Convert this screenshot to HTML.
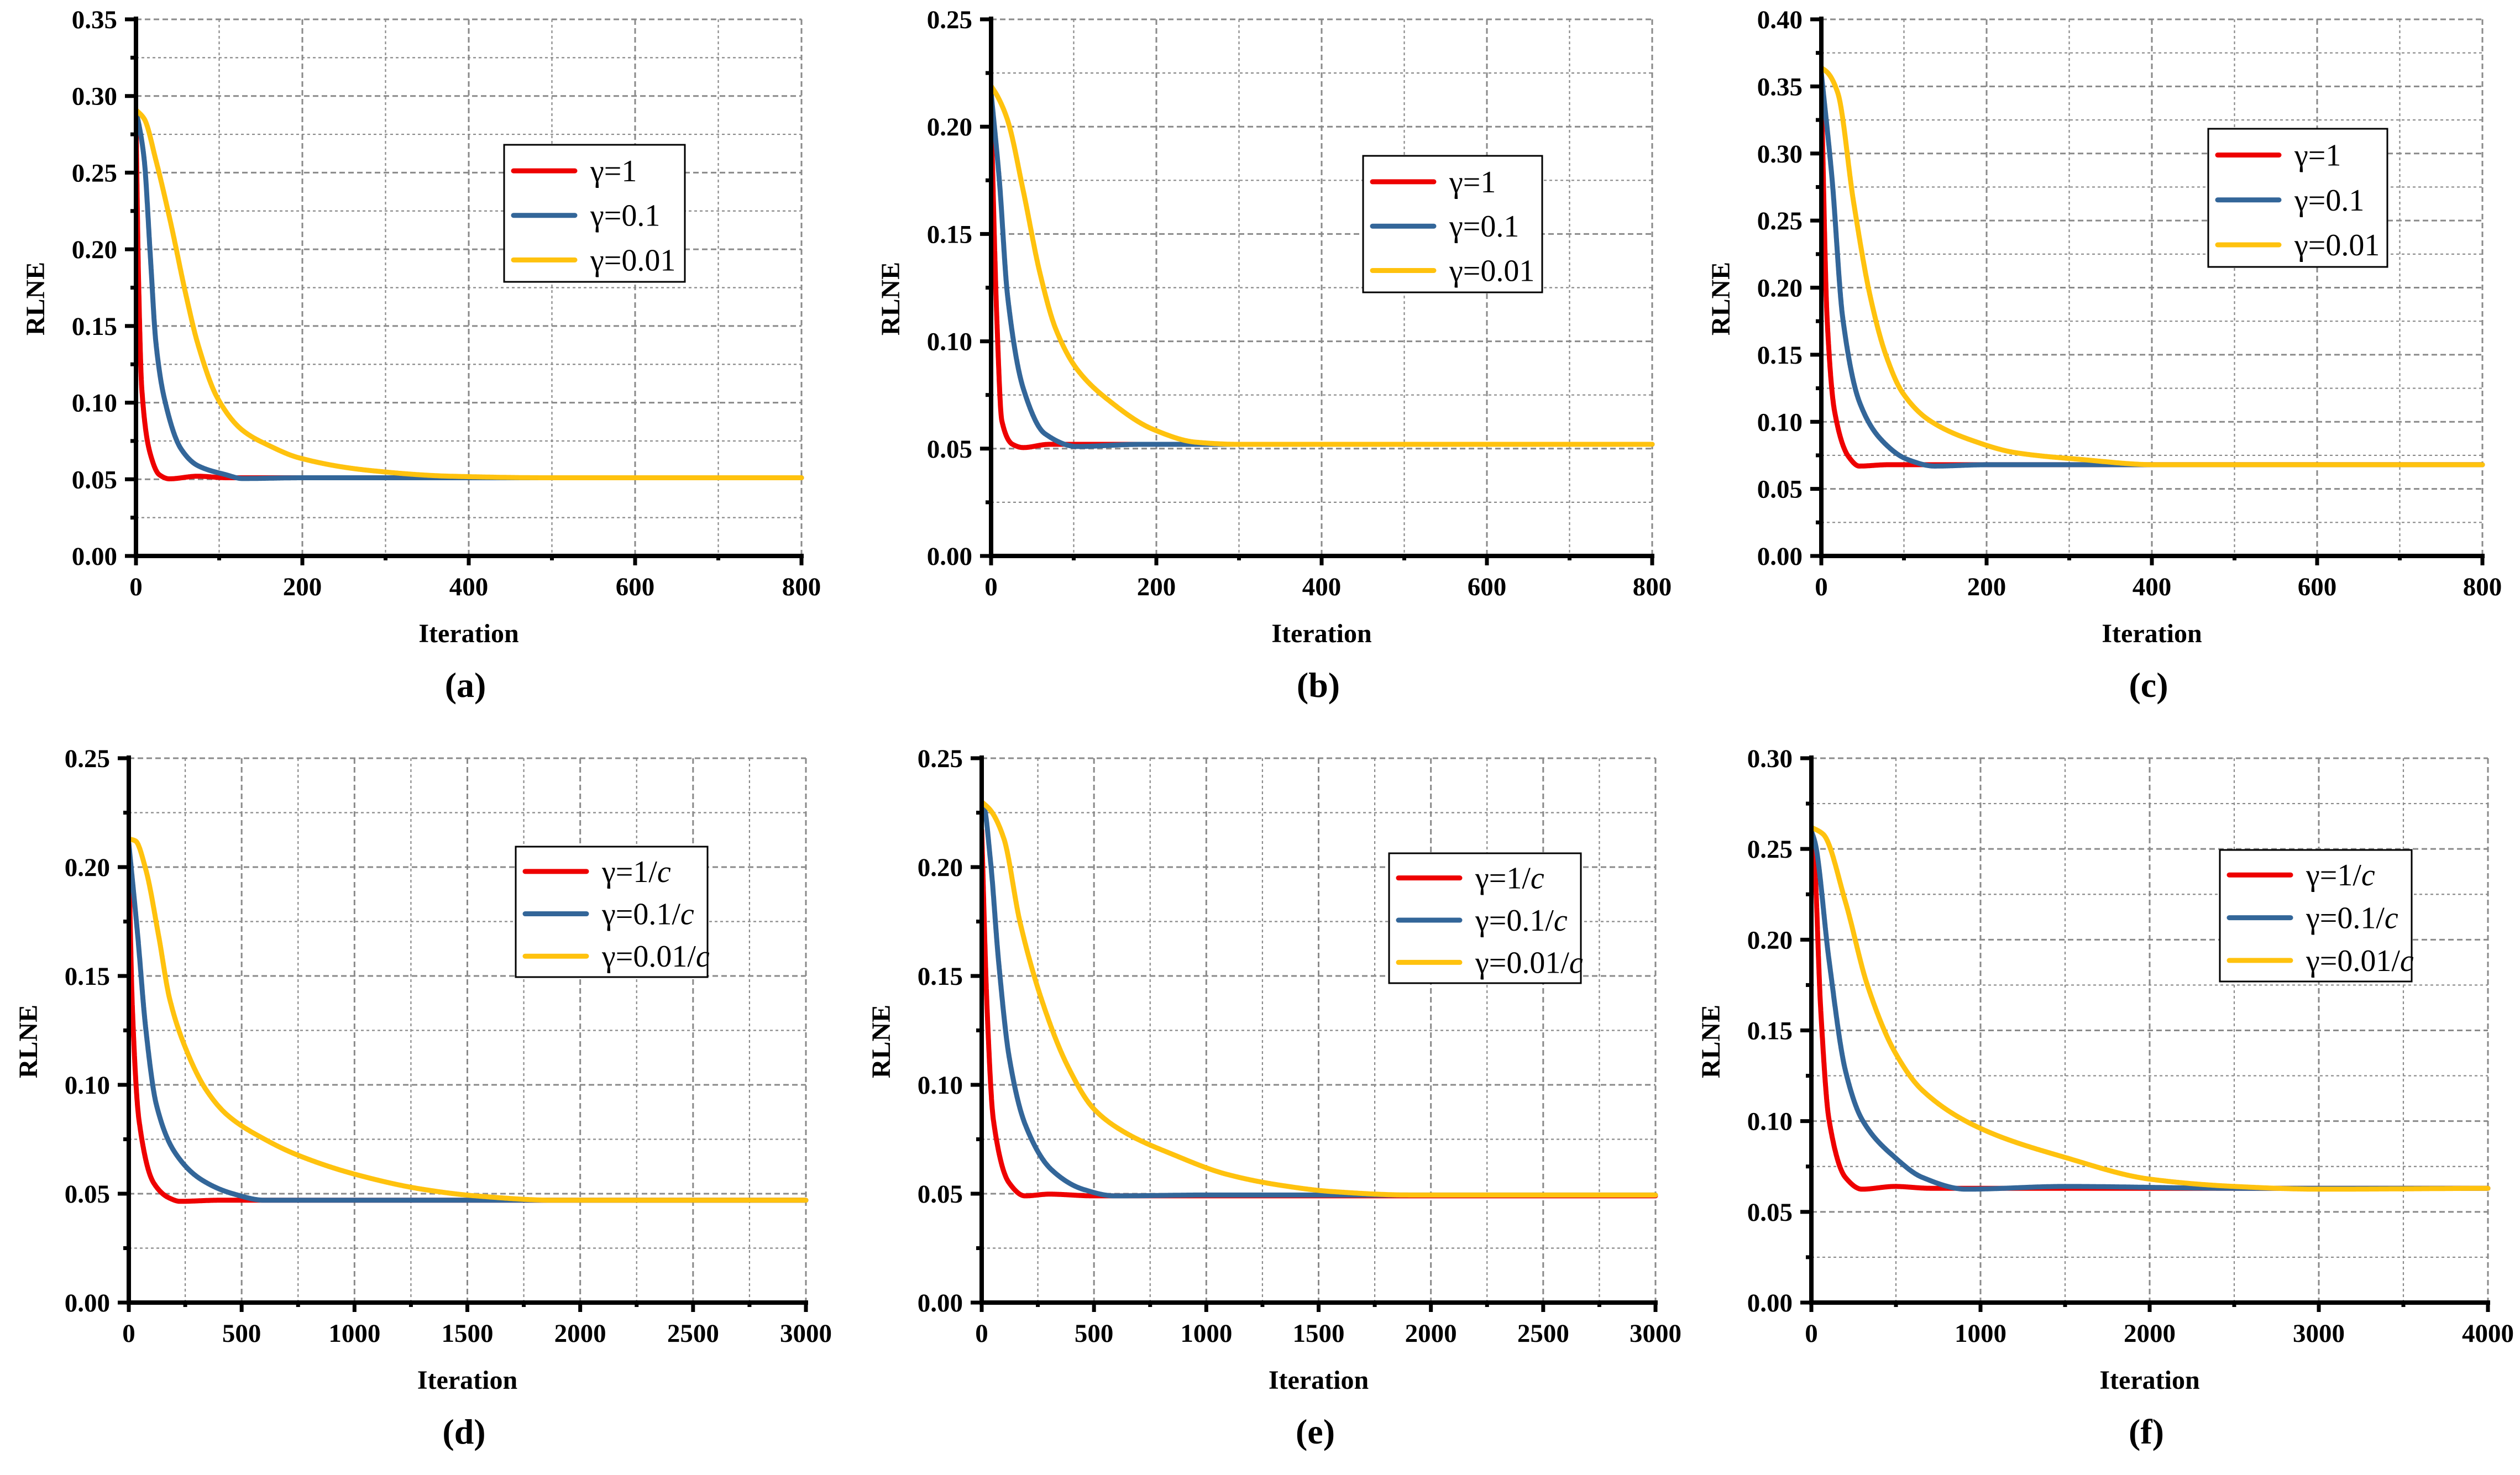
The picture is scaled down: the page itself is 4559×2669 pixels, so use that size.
<!DOCTYPE html>
<html><head><meta charset="utf-8"><style>
html,body{margin:0;padding:0;background:#fff;}
svg{display:block;}
</style></head><body>
<svg id="s" width="4559" height="2669" viewBox="0 0 4559 2669" xmlns="http://www.w3.org/2000/svg" font-family="'Liberation Serif', 'Times New Roman', serif"></svg>
<script>
const R='#ee0000',B='#336699',Y='#ffc20e';
const panels=[
 {x0:246,x1:1450,y0:35,y1:1006,xmax:800,xstep:200,ymax:0.35,lab:'(a)',c:false,
  leg:[912,262,1239,510],
  cur:[
   [R,[[0,0.288],[3,0.183],[7,0.109],[17,0.067],[28,0.053],[40,0.0503],[74,0.052],[110,0.051],[800,0.051]]],
   [B,[[0,0.29],[4,0.28],[10,0.258],[17,0.198],[24,0.139],[34,0.103],[54,0.07],[74,0.059],[108,0.053],[128,0.0505],[200,0.051],[800,0.051]]],
   [Y,[[0,0.291],[10,0.285],[24,0.258],[41,0.219],[61,0.168],[74,0.139],[98,0.103],[128,0.082],[160,0.072],[196,0.064],[277,0.056],[379,0.052],[500,0.051],[800,0.051]]]]},
 {x0:1793,x1:2989,y0:35,y1:1006,xmax:800,xstep:200,ymax:0.25,lab:'(b)',c:false,
  leg:[2466,282,2790,529],
  cur:[
   [R,[[0,0.207],[7,0.110],[13,0.063],[26,0.052],[39,0.0505],[70,0.052],[800,0.052]]],
   [B,[[0,0.216],[10,0.175],[20,0.121],[39,0.078],[65,0.057],[104,0.051],[180,0.052],[800,0.052]]],
   [Y,[[0,0.219],[8,0.214],[20,0.203],[39,0.170],[59,0.132],[78,0.106],[104,0.087],[144,0.072],[196,0.059],[248,0.053],[300,0.052],[800,0.052]]]]},
 {x0:3295,x1:4491,y0:35,y1:1006,xmax:800,xstep:200,ymax:0.40,lab:'(c)',c:false,
  leg:[3995,233,4319,483],
  cur:[
   [R,[[0,0.35],[7,0.177],[16,0.108],[33,0.074],[46,0.067],[80,0.068],[800,0.068]]],
   [B,[[0,0.360],[13,0.281],[26,0.177],[46,0.115],[72,0.087],[104,0.072],[137,0.067],[200,0.068],[800,0.068]]],
   [Y,[[0,0.364],[8,0.360],[20,0.345],[39,0.264],[59,0.194],[78,0.150],[98,0.122],[131,0.101],[183,0.086],[235,0.077],[313,0.072],[405,0.068],[800,0.068]]]]},
 {x0:233,x1:1458,y0:1372,y1:2357,xmax:3000,xstep:500,ymax:0.25,lab:'(d)',c:true,
  leg:[933,1532,1280,1768],
  cur:[
   [R,[[0,0.204],[16,0.135],[45,0.084],[110,0.055],[180,0.048],[227,0.0465],[400,0.047],[3000,0.047]]],
   [B,[[0,0.211],[40,0.168],[75,0.126],[122,0.091],[204,0.069],[321,0.0565],[461,0.050],[602,0.047],[1000,0.047],[3000,0.047]]],
   [Y,[[0,0.213],[30,0.212],[75,0.199],[133,0.168],[180,0.140],[251,0.117],[344,0.0975],[438,0.086],[602,0.075],[742,0.068],[1000,0.059],[1304,0.052],[1538,0.049],[1890,0.047],[3000,0.047]]]]},
 {x0:1776,x1:2995,y0:1372,y1:2357,xmax:3000,xstep:500,ymax:0.25,lab:'(e)',c:true,
  leg:[2513,1544,2860,1779],
  cur:[
   [R,[[0,0.217],[24,0.135],[52,0.084],[122,0.055],[193,0.049],[300,0.0498],[500,0.049],[3000,0.049]]],
   [B,[[0,0.229],[9,0.228],[40,0.202],[75,0.157],[122,0.113],[193,0.082],[311,0.061],[452,0.052],[593,0.049],[1000,0.0494],[3000,0.0494]]],
   [Y,[[0,0.230],[40,0.226],[99,0.213],[170,0.175],[264,0.140],[381,0.109],[499,0.089],[640,0.078],[852,0.068],[1088,0.059],[1323,0.054],[1559,0.051],[1912,0.0494],[3000,0.0494]]]]},
 {x0:3277,x1:4501,y0:1372,y1:2357,xmax:4000,xstep:1000,ymax:0.30,lab:'(f)',c:true,
  leg:[4016,1538,4363,1776],
  cur:[
   [R,[[0,0.258],[16,0.247],[55,0.162],[104,0.101],[201,0.069],[299,0.0625],[494,0.064],[700,0.063],[4000,0.063]]],
   [B,[[0,0.26],[23,0.253],[104,0.189],[201,0.128],[299,0.101],[494,0.080],[656,0.069],[916,0.0625],[1500,0.064],[2500,0.063],[4000,0.063]]],
   [Y,[[0,0.262],[71,0.258],[201,0.221],[331,0.175],[494,0.138],[656,0.117],[1000,0.096],[1500,0.080],[2003,0.068],[2503,0.064],[3000,0.0625],[4000,0.063]]]]}
];
function mono(p){ // Fritsch-Carlson, returns function
 const n=p.length,xs=p.map(q=>q[0]),ys=p.map(q=>q[1]);
 const d=[],m=new Array(n);
 for(let i=0;i<n-1;i++)d.push((ys[i+1]-ys[i])/(xs[i+1]-xs[i]));
 m[0]=d[0];m[n-1]=d[n-2];
 for(let i=1;i<n-1;i++){ if(d[i-1]*d[i]<=0)m[i]=0; else { const h0=xs[i]-xs[i-1],h1=xs[i+1]-xs[i];const w1=2*h1+h0,w2=h1+2*h0;m[i]=(w1+w2)/(w1/d[i-1]+w2/d[i]);} }
 return x=>{let i=0;while(i<n-2&&x>xs[i+1])i++;
  const h=xs[i+1]-xs[i],t=(x-xs[i])/h,t2=t*t,t3=t2*t;
  return (2*t3-3*t2+1)*ys[i]+(t3-2*t2+t)*h*m[i]+(-2*t3+3*t2)*ys[i+1]+(t3-t2)*h*m[i+1];};
}
let h='';
for(const P of panels){
 const W=P.x1-P.x0,H=P.y1-P.y0;
 const X=v=>P.x0+v/P.xmax*W, Yf=v=>P.y1-v/P.ymax*H;
 const nY=Math.round(P.ymax/0.05);
 for(let i=1;i<=2*nY;i++){const y=P.y1-i*H/(2*nY);const maj=i%2==0;
  h+=`<line x1="${P.x0}" y1="${y}" x2="${P.x1}" y2="${y}" stroke="#8a8a8a" stroke-width="${maj?3:2.2}" stroke-dasharray="${maj?'10,6':'5,5'}"/>`;}
 const nX=Math.round(P.xmax/P.xstep);
 for(let i=1;i<=2*nX;i++){const x=P.x0+i*W/(2*nX);const maj=i%2==0;
  h+=`<line x1="${x}" y1="${P.y0}" x2="${x}" y2="${P.y1}" stroke="#8a8a8a" stroke-width="${maj?3:2.2}" stroke-dasharray="${maj?'10,6':'5,5'}"/>`;}
 h+=`<defs><clipPath id="c${P.x0}"><rect x="${P.x0}" y="${P.y0-20}" width="${W+6}" height="${H+20}"/></clipPath></defs><g clip-path="url(#c${P.x0})">`;
 for(const [col,pts] of P.cur){
  const f=mono(pts);let s='';
  const N=1500;
  for(let k=0;k<=N;k++){const xv=P.xmax*Math.pow(k/N,2);s+=(k?' ':'')+X(xv).toFixed(1)+','+Yf(f(xv)).toFixed(1);}
  h+=`<polyline points="${s}" fill="none" stroke="${col}" stroke-width="9" stroke-linejoin="round" stroke-linecap="round"/>`;
 }
 h+='</g>';
 h+=`<line x1="${P.x0}" y1="${P.y0-5}" x2="${P.x0}" y2="${P.y1+3}" stroke="#000" stroke-width="8"/>`;
 h+=`<line x1="${P.x0-4}" y1="${P.y1}" x2="${P.x1+4}" y2="${P.y1}" stroke="#000" stroke-width="8"/>`;
 for(let i=0;i<=2*nY;i++){const y=P.y1-i*H/(2*nY);const maj=i%2==0;
  h+=`<line x1="${P.x0-(maj?20:10)}" y1="${y}" x2="${P.x0}" y2="${y}" stroke="#000" stroke-width="7"/>`;
  if(maj)h+=`<text x="${P.x0-34}" y="${y+16}" text-anchor="end" font-size="47" font-weight="bold">${(i/2*0.05).toFixed(2)}</text>`;}
 for(let i=0;i<=2*nX;i++){const x=P.x0+i*W/(2*nX);const maj=i%2==0;
  h+=`<line x1="${x}" y1="${P.y1}" x2="${x}" y2="${P.y1+(maj?17:8)}" stroke="#000" stroke-width="7"/>`;
  if(maj)h+=`<text x="${x}" y="${P.y1+71}" text-anchor="middle" font-size="47" font-weight="bold">${i/2*P.xstep}</text>`;}
 const cx=(P.x0+P.x1)/2;
 h+=`<text x="${cx}" y="${P.y1+156}" text-anchor="middle" font-size="48" font-weight="bold">Iteration</text>`;
 h+=`<text x="${cx-6}" y="${P.y1+255}" text-anchor="middle" font-size="64" font-weight="bold">${P.lab}</text>`;
 const ry=(P.y0+P.y1)/2+20;
 h+=`<text transform="translate(${P.x0-166},${ry}) rotate(-90)" text-anchor="middle" font-size="48" font-weight="bold">RLNE</text>`;
 const [lx0,ly0,lx1,ly1]=P.leg;
 h+=`<rect x="${lx0}" y="${ly0}" width="${lx1-lx0}" height="${ly1-ly0}" fill="#fff" stroke="#000" stroke-width="3"/>`;
 const labs=['1','0.1','0.01'];
 const cols=[R,B,Y];
 for(let k=0;k<3;k++){const y=ly0+(ly1-ly0)*(0.19+0.325*k);
  h+=`<line x1="${lx0+17}" y1="${y}" x2="${lx0+128}" y2="${y}" stroke="${cols[k]}" stroke-width="9" stroke-linecap="round"/>`;
  h+=`<text x="${lx0+156}" y="${y+19}" font-size="56">γ=${labs[k]}${P.c?'/<tspan font-style="italic">c</tspan>':''}</text>`;}
}
document.getElementById('s').innerHTML=h;
</script>
</body></html>
